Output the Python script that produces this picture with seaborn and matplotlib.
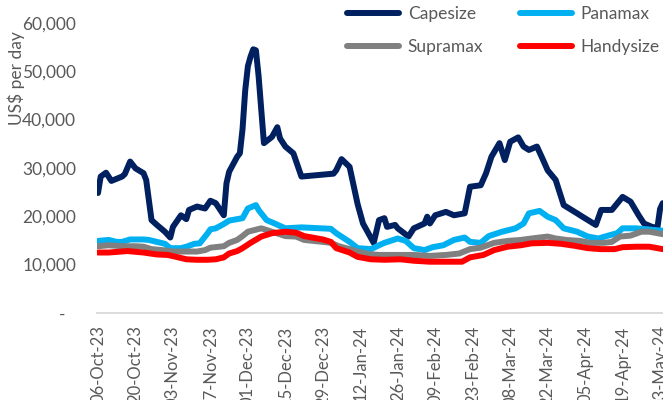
import numpy as np
import pandas as pd
import matplotlib
matplotlib.use("Agg")
import matplotlib.pyplot as plt
import matplotlib.dates as mdates
from matplotlib.lines import Line2D
from matplotlib.ticker import FuncFormatter
from matplotlib.transforms import ScaledTranslation
import seaborn as sns

# daily timecharter rates, days counted from 06-Oct-23, values in US$ '000 per day
start = pd.Timestamp("2023-10-06")

cape_day = [0, 1, 3, 5, 9, 10, 12, 14, 17, 18, 20, 22, 25, 27, 28, 31, 33, 34, 37, 40,
            42, 44, 47, 48, 49, 52, 53, 54, 55, 56, 57, 58, 59, 60, 61, 62, 65, 67, 68, 70,
            73, 76, 88, 89, 91, 94, 97, 99, 103, 105, 107, 108, 111, 112, 116, 118, 122, 123,
            124, 126, 130, 133, 137, 139, 143, 145, 147, 150, 152, 154, 157, 159, 161, 164,
            166, 168, 171, 174, 179, 181, 186, 188, 192, 196, 199, 202, 204, 207, 209, 210, 211]
cape_val = [24.8, 28.2, 29.0, 27.3, 28.2, 28.7, 31.3, 29.9, 28.9, 27.5, 19.2, 18.2, 16.8, 15.6,
            17.8, 20.2, 19.4, 21.3, 22.0, 21.6, 23.2, 22.7, 20.2, 26.8, 29.2, 32.3, 33.0, 38.0,
            46.0, 51.0, 53.0, 54.5, 54.3, 49.0, 42.0, 35.1, 36.4, 38.4, 36.1, 34.4, 33.0, 28.2,
            28.8, 29.5, 31.8, 30.2, 22.5, 18.5, 14.5, 19.2, 19.6, 17.8, 18.2, 17.5, 15.8, 17.5,
            18.5, 19.9, 18.5, 20.2, 20.9, 20.2, 20.6, 26.1, 26.4, 28.9, 32.3, 35.1, 31.6, 35.4,
            36.3, 34.4, 33.7, 34.4, 32.0, 29.5, 27.5, 22.3, 20.6, 19.9, 18.2, 21.3, 21.3, 24.0,
            23.0, 20.2, 18.5, 17.8, 17.6, 21.5, 22.7]

pana_day = [0, 4, 7, 9, 12, 17, 19, 22, 25, 27, 31, 33, 36, 38, 41, 42, 44, 47, 49, 52, 54,
            56, 59, 60, 63, 66, 70, 76, 87, 89, 94, 97, 102, 105, 107, 112, 115, 118, 122, 125,
            129, 133, 137, 139, 143, 146, 151, 156, 159, 161, 165, 168, 171, 174, 179, 183, 187,
            190, 194, 196, 201, 205, 211]
pana_val = [14.9, 15.1, 14.7, 14.7, 15.2, 15.2, 15.1, 14.7, 14.3, 13.4, 13.4, 13.7, 14.3, 14.4,
            16.5, 17.3, 17.5, 18.4, 19.1, 19.4, 19.6, 21.6, 22.3, 21.3, 19.2, 18.5, 17.5, 17.7,
            17.4, 16.5, 14.7, 13.4, 13.2, 14.0, 14.5, 15.4, 14.9, 13.4, 13.0, 13.6, 14.0, 15.1,
            15.6, 14.7, 14.5, 15.9, 16.8, 17.5, 18.5, 20.6, 21.1, 19.9, 19.2, 17.5, 16.8, 15.8,
            15.4, 15.9, 16.5, 17.5, 17.5, 17.3, 17.0]

supra_day = [0, 4, 9, 14, 17, 20, 24, 28, 32, 37, 40, 42, 47, 49, 52, 54, 56, 61, 65, 70, 74,
             77, 84, 87, 90, 94, 97, 101, 105, 112, 118, 124, 130, 135, 139, 143, 148, 153, 158,
             162, 168, 171, 175, 180, 184, 189, 192, 195, 199, 203, 206, 211]
supra_val = [13.8, 14.0, 13.8, 13.8, 13.7, 13.2, 13.0, 12.7, 12.7, 12.7, 13.0, 13.5, 13.8, 14.5,
             15.1, 15.9, 16.8, 17.5, 16.8, 15.9, 15.8, 15.1, 14.7, 14.5, 13.8, 13.2, 12.7, 12.2,
             12.0, 12.0, 12.0, 11.8, 12.0, 12.3, 13.2, 13.5, 14.5, 14.9, 15.1, 15.4, 15.8, 15.4,
             15.1, 14.9, 14.5, 14.5, 14.7, 15.8, 16.0, 16.8, 16.8, 16.3]

handy_day = [0, 4, 11, 17, 22, 26, 30, 33, 37, 41, 44, 47, 49, 52, 54, 57, 61, 65, 70, 74, 77,
             84, 87, 89, 94, 97, 102, 107, 113, 118, 124, 130, 136, 139, 144, 148, 153, 158, 162,
             168, 173, 178, 183, 188, 193, 196, 201, 206, 211]
handy_val = [12.5, 12.5, 12.8, 12.5, 12.1, 12.0, 11.5, 11.1, 11.0, 11.0, 11.1, 11.5, 12.3, 12.8,
             13.4, 14.5, 15.8, 16.5, 16.8, 16.6, 15.9, 15.2, 14.7, 13.4, 12.5, 11.6, 11.1, 11.0,
             11.1, 10.8, 10.6, 10.6, 10.6, 11.5, 12.0, 13.0, 13.7, 14.0, 14.4, 14.5, 14.3, 13.9,
             13.4, 13.2, 13.2, 13.6, 13.7, 13.7, 13.2]

vessels = ["Capesize", "Panamax", "Supramax", "Handysize"]
colors = ["#002060", "#00B0F0", "#808080", "#FF0000"]
text_grey = "#595959"

frames = []
for name, days, vals in zip(vessels, [cape_day, pana_day, supra_day, handy_day],
                            [cape_val, pana_val, supra_val, handy_val]):
    frames.append(pd.DataFrame({"date": start + pd.to_timedelta(days, unit="D"),
                                "rate": np.array(vals) * 1000, "vessel": name}))
df = pd.concat(frames, ignore_index=True)

sns.set_theme(style="white")
plt.rcParams["font.family"] = ["Lato", "DejaVu Sans"]

fig = plt.figure(figsize=(6.63, 4.0), dpi=100)
ax = fig.add_axes([97 / 663, 87 / 400, 566 / 663, 290.3 / 400])

sns.lineplot(data=df, x="date", y="rate", hue="vessel", hue_order=vessels, palette=colors,
             linewidth=4.3, estimator=None, ax=ax, legend=False)
for line in ax.lines:
    line.set_solid_joinstyle("round")
    line.set_solid_capstyle("round")

ax.set_ylim(0, 60000)
ax.set_yticks(range(0, 60001, 10000))
ax.yaxis.set_major_formatter(FuncFormatter(lambda v, p: "-" if v == 0 else f"{v:,.0f}"))
ax.set_xlim(start - pd.Timedelta(hours=9), start + pd.Timedelta(days=211.1))
ax.set_xticks(pd.date_range(start, periods=16, freq="14D"))
ax.xaxis.set_major_formatter(mdates.DateFormatter("%d-%b-%y"))

ax.tick_params(axis="y", length=0, pad=15, labelsize=12.5, labelcolor=text_grey)
ax.tick_params(axis="x", length=0, pad=9, labelsize=12, labelcolor=text_grey, rotation=90)

zero_lbl = ax.yaxis.get_major_ticks()[0].label1
zero_lbl.set_transform(zero_lbl.get_transform() + ScaledTranslation(-0.11, 0, fig.dpi_scale_trans))

for s in ["left", "top", "right"]:
    ax.spines[s].set_visible(False)
ax.spines["bottom"].set_color("#D9D9D9")
ax.spines["bottom"].set_linewidth(1.3)

ax.set_xlabel("")
ax.set_ylabel("US$ per day", fontsize=12.5, color=text_grey)
ax.yaxis.set_label_coords(-0.128, 0.81)

handles = [Line2D([], [], color=c, linewidth=4.3, solid_capstyle="round") for c in colors]
order = [0, 2, 1, 3]
fig.legend([handles[i] for i in order], [vessels[i] for i in order], ncol=2,
           loc="upper left", bbox_to_anchor=(347 / 663, 1 - 6 / 400), frameon=False,
           fontsize=12.5, labelcolor=text_grey, handlelength=3.0, handletextpad=0.5,
           columnspacing=2.1, labelspacing=1.0, borderpad=0, borderaxespad=0)

fig.savefig("out.png", dpi=100)
